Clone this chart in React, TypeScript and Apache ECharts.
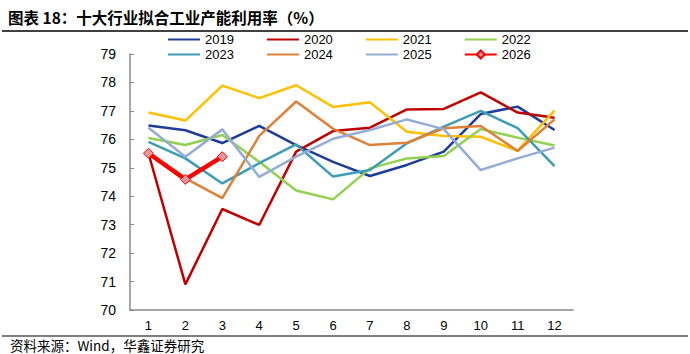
import React, { useEffect, useRef } from "react";
import * as echarts from "echarts";

const months = ["1", "2", "3", "4", "5", "6", "7", "8", "9", "10", "11", "12"];
const years = ["2019", "2020", "2021", "2022", "2023", "2024", "2025", "2026"];
const colors = ["#1F3C99", "#C00000", "#FFC000", "#92D050", "#3E9DB5", "#DD8139", "#95ADD5", "#FF0000"];

const v2019 = [76.49, 76.32, 75.87, 76.47, 75.8, 75.21, 74.71, 75.1, 75.57, 76.89, 77.15, 76.33];
const v2020 = [75.51, 70.9, 73.55, 72.99, 75.57, 76.29, 76.41, 77.05, 77.07, 77.65, 76.94, 76.76];
const v2021 = [76.94, 76.66, 77.89, 77.45, 77.9, 77.14, 77.3, 76.27, 76.12, 76.09, 75.6, 77.01];
const v2022 = [76.05, 75.8, 76.15, 75.21, 74.2, 73.89, 74.98, 75.33, 75.41, 76.36, 76.06, 75.78];
const v2023 = [75.91, 75.33, 74.45, 75.16, 75.82, 74.69, 74.92, 75.86, 76.45, 77.0, 76.39, 75.06];
const v2024 = [75.52, 74.63, 73.93, 76.12, 77.33, 76.37, 75.8, 75.88, 76.39, 76.47, 75.59, 76.7];
const v2025 = [76.41, 75.39, 76.35, 74.68, 75.39, 76.02, 76.33, 76.7, 76.36, 74.92, 75.33, 75.71];
const v2026 = [75.51, 74.59, 75.39];

const allValues = [v2019, v2020, v2021, v2022, v2023, v2024, v2025, v2026];

const titleText = "图表 18：十大行业拟合工业产能利用率（%）";
const sourceText = "资料来源：Wind，华鑫证券研究";

export default function App() {
  const ref = useRef<HTMLDivElement>(null);
  useEffect(() => {
    if (!ref.current) return;
    const chart = echarts.init(ref.current, null, { renderer: "svg" });
    const series: any[] = years.map((y, i) => {
      const is26 = y === "2026";
      return {
        name: y,
        type: "line",
        data: allValues[i],
        z: is26 ? 10 : 2,
        symbol: is26 ? "diamond" : "none",
        symbolSize: is26 ? 10 : 0,
        showSymbol: is26,
        lineStyle: { color: colors[i], width: is26 ? 4.5 : 2.5 },
        itemStyle: is26
          ? { color: "#E39A9A", borderColor: "#FF0000", borderWidth: 1 }
          : { color: colors[i] },
      };
    });
    const legendItem = (name: string) =>
      name === "2026"
        ? { name }
        : { name, itemStyle: { opacity: 0 } };
    const legendBase = {
      orient: "horizontal",
      itemWidth: 32,
      itemHeight: 10,
      itemGap: 32,
      textStyle: { fontSize: 13, color: "#000", fontFamily: "Liberation Sans" },
    };
    chart.setOption({
      animation: false,
      backgroundColor: "#fff",
      grid: { left: 130, right: 117, top: 54, bottom: 44 },
      legend: [
        { ...legendBase, left: 162, top: 28, data: years.slice(0, 4).map(legendItem) },
        { ...legendBase, left: 162, top: 43, data: years.slice(4).map(legendItem) },
      ],
      xAxis: {
        type: "category",
        data: months,
        boundaryGap: true,
        axisLine: { lineStyle: { color: "#888", width: 1.5 } },
        axisTick: { inside: true, length: 4, lineStyle: { color: "#888" } },
        axisLabel: { color: "#000", fontSize: 13, fontFamily: "Liberation Sans", margin: 9 },
      },
      yAxis: {
        type: "value",
        min: 70,
        max: 79,
        interval: 1,
        axisLine: { show: true, lineStyle: { color: "#888", width: 1.5 } },
        axisTick: { show: true, inside: true, length: 4, lineStyle: { color: "#888" } },
        splitLine: { show: false },
        axisLabel: { color: "#000", fontSize: 14, fontFamily: "Liberation Sans", margin: 14 },
      },
      graphic: [
        {
          type: "text",
          left: 8,
          top: 9,
          style: {
            text: titleText,
            font: "bold 15.5px 'Noto Sans CJK SC'",
            fill: "#000",
          },
        },
        {
          type: "line",
          shape: { x1: 2, y1: 31, x2: 688, y2: 31 },
          style: { stroke: "#000", lineWidth: 1.5 },
        },
        {
          type: "line",
          shape: { x1: 2, y1: 336, x2: 688, y2: 336 },
          style: { stroke: "#000", lineWidth: 1 },
        },
        {
          type: "text",
          x: 10,
          y: 345,
          style: {
            text: sourceText,
            font: "13.5px 'Noto Sans CJK SC'",
            fill: "#000",
            verticalAlign: "middle",
          },
        },
      ],
      series,
    });
    return () => chart.dispose();
  }, []);
  return <div ref={ref} style={{ width: 690, height: 354, position: "absolute", left: 0, top: 0 }} />;
}
